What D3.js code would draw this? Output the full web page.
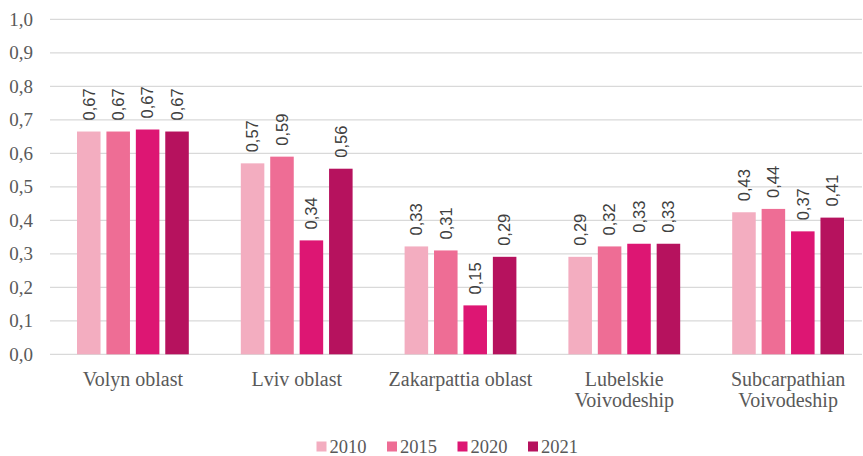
<!DOCTYPE html>
<html>
<head>
<meta charset="utf-8">
<script src="https://cdn.jsdelivr.net/npm/d3@7"></script>
<style>
  body { margin: 0; background: #fff; }
  .serif { font-family: "Liberation Serif", "Times New Roman", serif; }
  .sans { font-family: "Liberation Sans", Arial, sans-serif; }
</style>
</head>
<body>
<div id="chart"></div>
<script>
// data
const categories = [
  ["Volyn oblast"],
  ["Lviv oblast"],
  ["Zakarpattia oblast"],
  ["Lubelskie", "Voivodeship"],
  ["Subcarpathian", "Voivodeship"]
];
const years = ["2010", "2015", "2020", "2021"];
const values2010 = [0.665, 0.570, 0.322, 0.291, 0.424];
const values2015 = [0.665, 0.590, 0.310, 0.322, 0.434];
const values2020 = [0.671, 0.340, 0.146, 0.330, 0.367];
const values2021 = [0.665, 0.554, 0.291, 0.330, 0.408];
const labels2010 = ["0,67", "0,57", "0,33", "0,29", "0,43"];
const labels2015 = ["0,67", "0,59", "0,31", "0,32", "0,44"];
const labels2020 = ["0,67", "0,34", "0,15", "0,33", "0,37"];
const labels2021 = ["0,67", "0,56", "0,29", "0,33", "0,41"];
const yTicks = [0, 0.1, 0.2, 0.3, 0.4, 0.5, 0.6, 0.7, 0.8, 0.9, 1.0];

const colors = ["#F3ADC0", "#EE6D95", "#DD1673", "#B6125E"];

const width = 863, height = 456;

const series = [
  {year: years[0], values: values2010, labels: labels2010},
  {year: years[1], values: values2015, labels: labels2015},
  {year: years[2], values: values2020, labels: labels2020},
  {year: years[3], values: values2021, labels: labels2021}
];

const svg = d3.select("#chart").append("svg")
    .attr("width", width)
    .attr("height", height);

const catNames = categories.map(c => c.join(" "));

const x0 = d3.scaleBand()
    .domain(catNames)
    .range([51, 870]);

const x1 = d3.scaleBand()
    .domain(years)
    .range([26, x0.bandwidth() - 26])
    .paddingInner(0.2);

const y = d3.scaleLinear()
    .domain([0, 1])
    .range([354.3, 19.3]);

// gridlines
svg.append("g")
  .selectAll("line")
  .data(yTicks)
  .join("line")
    .attr("x1", 50)
    .attr("x2", 862)
    .attr("y1", d => y(d))
    .attr("y2", d => y(d))
    .attr("stroke", "#d9d9d9")
    .attr("stroke-width", 1.3);

// y tick labels
svg.append("g")
    .attr("class", "serif")
    .attr("font-size", 19)
    .attr("fill", "#595959")
  .selectAll("text")
  .data(yTicks)
  .join("text")
    .attr("x", 33)
    .attr("y", d => y(d))
    .attr("dy", "0.35em")
    .attr("text-anchor", "end")
    .text(d => d3.format(".1f")(d).replace(".", ","));

// bars
const group = svg.append("g")
  .selectAll("g")
  .data(series)
  .join("g")
    .attr("fill", (d, i) => colors[i]);

group.selectAll("rect")
  .data(s => s.values.map((v, i) => ({year: s.year, cat: catNames[i], value: v})))
  .join("rect")
    .attr("x", d => x0(d.cat) + x1(d.year))
    .attr("y", d => y(d.value))
    .attr("width", x1.bandwidth())
    .attr("height", d => y(0) - y(d.value));

// value labels
group.selectAll("text")
  .data(s => s.values.map((v, i) => ({year: s.year, cat: catNames[i], value: v, label: s.labels[i]})))
  .join("text")
    .attr("class", "sans")
    .attr("font-size", 16.5)
    .attr("transform", d => `translate(${x0(d.cat) + x1(d.year) + x1.bandwidth() / 2},${y(d.value) - 11}) rotate(-90)`)
    .attr("dy", "0.35em")
    .attr("text-anchor", "start")
    .attr("fill", "#404040")
    .text(d => d.label);

// category labels
const cats = svg.append("g")
    .attr("class", "serif")
    .attr("font-size", 20)
    .attr("fill", "#595959")
  .selectAll("text")
  .data(categories)
  .join("text")
    .attr("x", (d, i) => x0(catNames[i]) + x0.bandwidth() / 2)
    .attr("y", 386)
    .attr("text-anchor", "middle");

cats.selectAll("tspan")
  .data(d => d)
  .join("tspan")
    .attr("x", function() { return this.parentNode.getAttribute("x"); })
    .attr("dy", (d, i) => i === 0 ? 0 : 20.5)
    .text(d => d);

// legend
const legend = svg.append("g")
    .attr("class", "serif")
    .attr("font-size", 18.5)
    .attr("fill", "#595959")
  .selectAll("g")
  .data(years)
  .join("g")
    .attr("transform", (d, i) => `translate(${316.5 + i * 70.5},441.5)`);

legend.append("rect")
    .attr("width", 10)
    .attr("height", 10)
    .attr("fill", (d, i) => colors[i]);

legend.append("text")
    .attr("x", 13)
    .attr("y", 5)
    .attr("dy", "0.35em")
    .text(d => d);
</script>
</body>
</html>
